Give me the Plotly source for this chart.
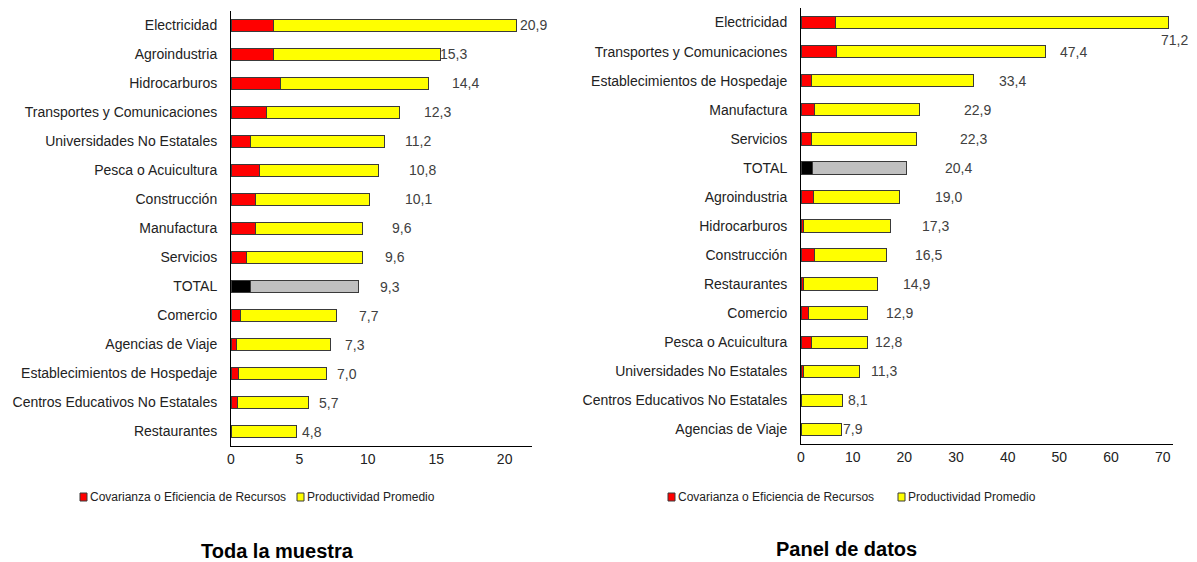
import plotly.graph_objects as go

# ---------------- data: "Toda la muestra" ----------------
cats_a = ["Electricidad", "Agroindustria", "Hidrocarburos", "Transportes y Comunicaciones",
          "Universidades No Estatales", "Pesca o Acuicultura", "Construcción", "Manufactura",
          "Servicios", "TOTAL", "Comercio", "Agencias de Viaje",
          "Establecimientos de Hospedaje", "Centros Educativos No Estatales", "Restaurantes"]
total_a = [20.9, 15.3, 14.4, 12.3, 11.2, 10.8, 10.1, 9.6, 9.6, 9.3, 7.7, 7.3, 7.0, 5.7, 4.8]
cov_a = [3.1, 3.1, 3.6, 2.6, 1.4, 2.1, 1.8, 1.8, 1.15, 1.4, 0.7, 0.42, 0.56, 0.46, 0.0]
labels_a = ["20,9", "15,3", "14,4", "12,3", "11,2", "10,8", "10,1", "9,6", "9,6", "9,3",
            "7,7", "7,3", "7,0", "5,7", "4,8"]

# ---------------- data: "Panel de datos" ----------------
cats_b = ["Electricidad", "Transportes y Comunicaciones", "Establecimientos de Hospedaje",
          "Manufactura", "Servicios", "TOTAL", "Agroindustria", "Hidrocarburos", "Construcción",
          "Restaurantes", "Comercio", "Pesca o Acuicultura", "Universidades No Estatales",
          "Centros Educativos No Estatales", "Agencias de Viaje"]
total_b = [71.2, 47.4, 33.4, 22.9, 22.3, 20.4, 19.0, 17.3, 16.5, 14.9, 12.9, 12.8, 11.3, 8.1, 7.9]
cov_b = [6.6, 6.8, 2.1, 2.6, 2.1, 2.3, 2.5, 0.45, 2.7, 0.45, 1.4, 2.1, 0.45, 0.0, 0.0]
labels_b = ["71,2", "47,4", "33,4", "22,9", "22,3", "20,4", "19,0", "17,3", "16,5", "14,9",
            "12,9", "12,8", "11,3", "8,1", "7,9"]

series_names = ["Covarianza o Eficiencia de Recursos", "Productividad Promedio"]
titles = ["Toda la muestra", "Panel de datos"]

# label placement (pixel shifts from bar end), as in the original
shift_a = [17, 13, 37, 38, 34, 44, 49, 40, 33, 32, 33, 24, 20, 20, 15]
shift_b = [6, 28, 39, 58, 57, 52, 49, 45, 42, 39, 32, 21, 25, 15, 11]

RED, YEL, BLK, GRY = "#FF0000", "#FFFF00", "#000000", "#C0C0C0"
EDGE = "#3a3a3a"
FONT = "Liberation Sans, Arial, sans-serif"

# the page has a small body margin; figure sized so it ends at the window edge
OFFX, OFFY = 8, 8
W, H = 1197 - OFFX, 562 - OFFY


def fx(px):
    return (px - OFFX) / W


def fy(py):
    return 1 - (py - OFFY) / H


fig = go.Figure()


def add_panel(cats, total, cov, xa, ya):
    prod = [round(t - c, 3) for t, c in zip(total, cov)]
    c1 = [BLK if c == "TOTAL" else RED for c in cats]
    c2 = [GRY if c == "TOTAL" else YEL for c in cats]
    fig.add_trace(go.Bar(y=cats, x=cov, orientation="h", name=series_names[0],
                         marker=dict(color=c1, line=dict(color=EDGE, width=1)),
                         xaxis=xa, yaxis=ya, showlegend=False))
    fig.add_trace(go.Bar(y=cats, x=prod, orientation="h", name=series_names[1],
                         marker=dict(color=c2, line=dict(color=EDGE, width=1)),
                         xaxis=xa, yaxis=ya, showlegend=False))


add_panel(cats_a, total_a, cov_a, "x", "y")
add_panel(cats_b, total_b, cov_b, "x2", "y2")

lab_font = dict(size=14, color="#404040", family=FONT)
ann = []
for c, t, lab, s in zip(cats_a, total_a, labels_a, shift_a):
    ann.append(dict(x=t, y=c, xref="x", yref="y", text=lab, showarrow=False,
                    xanchor="center", xshift=s, font=lab_font))
for i, (c, t, lab, s) in enumerate(zip(cats_b, total_b, labels_b, shift_b)):
    ann.append(dict(x=t, y=c, xref="x2", yref="y2", text=lab, showarrow=False,
                    xanchor="center", xshift=s, yshift=-17 if i == 0 else 0, font=lab_font))

# panel titles
for tx, px, py in zip(titles, [277, 846], [551, 549]):
    ann.append(dict(x=fx(px), y=fy(py), xref="paper", yref="paper", text="<b>" + tx + "</b>",
                    showarrow=False, xanchor="center", yanchor="middle",
                    font=dict(size=20, color="#000", family=FONT)))

# legends (small squares glued to their text, as in the original)
shapes = []
leg_font = dict(size=12, color="#222", family=FONT)
legend_items = [  # (square left px, colour, text)
    (80, RED, series_names[0]), (297, YEL, series_names[1]),
    (668, RED, series_names[0]), (898, YEL, series_names[1]),
]
LEG_Y = 497
for sx, col, tx in legend_items:
    shapes.append(dict(type="rect", xref="paper", yref="paper",
                       x0=fx(sx), x1=fx(sx + 7), y0=fy(LEG_Y + 4), y1=fy(LEG_Y - 4),
                       fillcolor=col, line=dict(color=EDGE, width=1)))
    ann.append(dict(x=fx(sx + 8), y=fy(LEG_Y), xref="paper", yref="paper", text=tx,
                    showarrow=False, xanchor="left", yanchor="middle", font=leg_font))

axis_common = dict(showgrid=False, zeroline=False, showline=True, linecolor="#000", linewidth=1,
                   ticks="", tickfont=dict(size=14, color="#222", family=FONT))
n_a, n_b = len(cats_a), len(cats_b)

fig.update_layout(
    width=W, height=H, margin=dict(l=0, r=0, t=0, b=0, autoexpand=False),
    paper_bgcolor="white", plot_bgcolor="white",
    barmode="stack", bargap=0.57,
    showlegend=False,
    font=dict(family=FONT, color="#222"),
    xaxis=dict(domain=[fx(231), fx(532)], range=[0, 22], dtick=5, anchor="y", **axis_common),
    yaxis=dict(domain=[fy(446), fy(11)], range=[n_a - 0.5, -0.5], categoryorder="array",
               categoryarray=cats_a, anchor="x", ticklabelstandoff=10, **axis_common),
    xaxis2=dict(domain=[fx(801), fx(1173)], range=[0, 72], dtick=10, anchor="y2", **axis_common),
    yaxis2=dict(domain=[fy(444), fy(8)], range=[n_b - 0.5, -0.5], categoryorder="array",
                categoryarray=cats_b, anchor="x2", ticklabelstandoff=10, **axis_common),
    annotations=ann,
    shapes=shapes,
)

fig.write_html("out.html")
